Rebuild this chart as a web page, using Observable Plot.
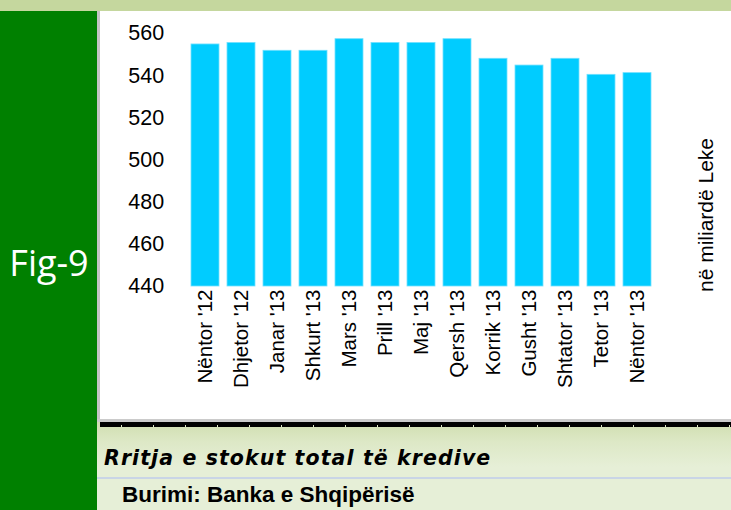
<!DOCTYPE html>
<html>
<head>
<meta charset="utf-8">
<script src="https://cdn.jsdelivr.net/npm/d3@7"></script>
<script src="https://cdn.jsdelivr.net/npm/@observablehq/plot@0.6"></script>
<style>
  html, body { margin: 0; padding: 0; }
  body { width: 731px; height: 510px; position: relative; overflow: hidden; background: #e5eed6; font-family: "Liberation Sans", Arial, sans-serif; }
  .abs { position: absolute; }
  #topband { left: 0; top: 0; width: 731px; height: 11px; background: #c5d79e; }
  #green { left: 0; top: 11px; width: 97px; height: 499px; background: #008000; }
  #fig { left: 0; top: 245px; width: 98px; text-align: center; color: #fff; font-family: "Open Sans", "Noto Sans", sans-serif; font-size: 36px; line-height: 1; }
  #lowbg { left: 97px; top: 422px; width: 634px; height: 88px; background: linear-gradient(#d0deb0 0px, #dde8c6 20px, #e6efd7 45px, #e6efd7 88px); }
  #shadowL { left: 97px; top: 11px; width: 3px; height: 411px; background: #c4c4c4; }
  #shadowB { left: 97px; top: 419px; width: 634px; height: 3px; background: #cbcbcb; }
  #chart { left: 100px; top: 11px; width: 631px; height: 408px; background: #fff; }
  #ruler { left: 100px; top: 422px; width: 631px; height: 5px; background: #000;
           background-image: repeating-linear-gradient(90deg, transparent 0px, transparent 21px, #dfe8c8 21px, #dfe8c8 22px, transparent 22px, transparent 32px);
           background-size: 100% 2px; background-position: 0 3px; background-repeat: no-repeat; background-color: #000; }
  #sep { left: 97px; top: 477px; width: 634px; height: 2px; background: #c9d5e6; }
  #caption { left: 104px; top: 446px; font-family: "DejaVu Sans", sans-serif; font-weight: bold; font-style: italic; font-size: 20.5px; letter-spacing: 1.1px; color: #000; white-space: nowrap; }
  #source { left: 122px; top: 482px; font-weight: bold; font-size: 22.5px; color: #000; white-space: nowrap; }
</style>
</head>
<body>
<div id="topband" class="abs"></div>
<div id="green" class="abs"></div>
<div id="fig" class="abs">Fig-9</div>
<div id="lowbg" class="abs"></div>
<div id="shadowL" class="abs"></div>
<div id="shadowB" class="abs"></div>
<div id="chart" class="abs"></div>
<div id="ruler" class="abs"></div>
<div id="sep" class="abs"></div>
<div id="caption" class="abs">Rritja e stokut total të kredive</div>
<div id="source" class="abs">Burimi: Banka e Shqipërisë</div>
<script>
const months = ["Nëntor '12", "Dhjetor '12", "Janar '13", "Shkurt '13", "Mars '13", "Prill '13", "Maj '13", "Qersh '13", "Korrik '13", "Gusht '13", "Shtator '13", "Tetor '13", "Nëntor '13"];
const credit = [554.8, 555.5, 551.8, 551.8, 557.3, 555.5, 555.5, 557.3, 548.0, 544.8, 548.0, 540.4, 541.2];
const yTicks = [440, 460, 480, 500, 520, 540, 560];
const unitLabel = "në miliardë Leke";

const data = months.map((m, i) => ({month: m, value: credit[i]}));

const chart = Plot.plot({
  width: 631,
  height: 408,
  marginLeft: 88.7,
  marginRight: 78.7,
  marginTop: 22,
  marginBottom: 133,
  style: {fontFamily: "'Liberation Sans', Arial, sans-serif", background: "transparent"},
  x: {domain: months, paddingInner: 0.23, paddingOuter: 0, label: null, axis: null},
  y: {domain: [440, 560], label: null, axis: null},
  marks: [
    Plot.barY(data, {x: "month", y1: 440, y2: "value", fill: "#00ccff", stroke: "#70e0ff", strokeWidth: 0.8}),
    Plot.axisY({ticks: yTicks, tickSize: 0, tickPadding: 25, fontSize: 21.5, label: null, tickFormat: d => String(d), fill: "#000"}),
    Plot.axisX({tickSize: 0, tickPadding: 3, tickRotate: -90, fontSize: 20.5, label: null, fill: "#000"}),
    Plot.text([unitLabel], {frameAnchor: "right", dx: 53, dy: 55, rotate: -90, text: d => d, fontSize: 21, fill: "#000", textAnchor: "middle"})
  ]
});
document.getElementById("chart").appendChild(chart);
</script>
</body>
</html>
